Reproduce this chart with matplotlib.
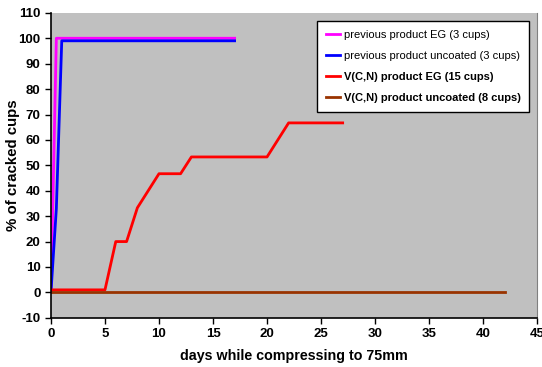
import matplotlib
matplotlib.use("Agg")
import matplotlib.pyplot as plt

plt.rcParams["font.family"] = ["Liberation Sans", "DejaVu Sans"]
plt.rcParams["axes.unicode_minus"] = False

prev_eg_days = [0, 0.5, 17]
prev_eg_pct = [0, 100, 100]

prev_unc_days = [0, 0.5, 1, 17]
prev_unc_pct = [0, 33, 99, 99]

vcn_eg_days = [0, 5, 6, 7, 8, 10, 12, 13, 20, 22, 27]
vcn_eg_pct = [1, 1, 20, 20, 33.3, 46.7, 46.7, 53.3, 53.3, 66.7, 66.7]

vcn_unc_days = [0, 42]
vcn_unc_pct = [0, 0]

fig = plt.figure(figsize=(5.42, 3.67), dpi=100)
ax = fig.add_axes([0.094, 0.134, 0.897, 0.831])
ax.set_facecolor("#c0c0c0")

ax.plot(prev_eg_days, prev_eg_pct, color="#ff00ff", lw=2, label="previous product EG (3 cups)")
ax.plot(prev_unc_days, prev_unc_pct, color="#0000ff", lw=2, label="previous product uncoated (3 cups)")
ax.plot(vcn_eg_days, vcn_eg_pct, color="#ff0000", lw=2, label="V(C,N) product EG (15 cups)")
ax.plot(vcn_unc_days, vcn_unc_pct, color="#993300", lw=2, label="V(C,N) product uncoated (8 cups)")

ax.set_xlim(0, 45)
ax.set_ylim(-10, 110)
ax.set_xticks(range(0, 46, 5))
ax.set_yticks(range(-10, 111, 10))
for lbl in ax.get_xticklabels() + ax.get_yticklabels():
    lbl.set_fontweight("bold")
ax.tick_params(labelsize=9.5, direction="out", length=4, width=1)

ax.spines["top"].set_visible(False)
ax.spines["right"].set_color("#808080")
ax.spines["left"].set_linewidth(1.2)
ax.spines["bottom"].set_linewidth(1.2)

ax.set_xlabel("days while compressing to 75mm", fontsize=10.3, fontweight="bold", labelpad=6)
ax.set_ylabel("% of cracked cups", fontsize=10.8, fontweight="bold")
ax.yaxis.set_label_coords(-0.064, 0.5)

leg = ax.legend(loc="upper right", bbox_to_anchor=(0.984, 0.974), borderaxespad=0,
                fontsize=8, frameon=True, fancybox=False, edgecolor="black",
                framealpha=1, handlelength=1.3, handletextpad=0.3,
                labelspacing=1.0, borderpad=0.8)
leg.get_frame().set_linewidth(1)
for i, t in enumerate(leg.get_texts()):
    if i >= 2:
        t.set_fontweight("bold")

plt.savefig("out.png", dpi=100)
